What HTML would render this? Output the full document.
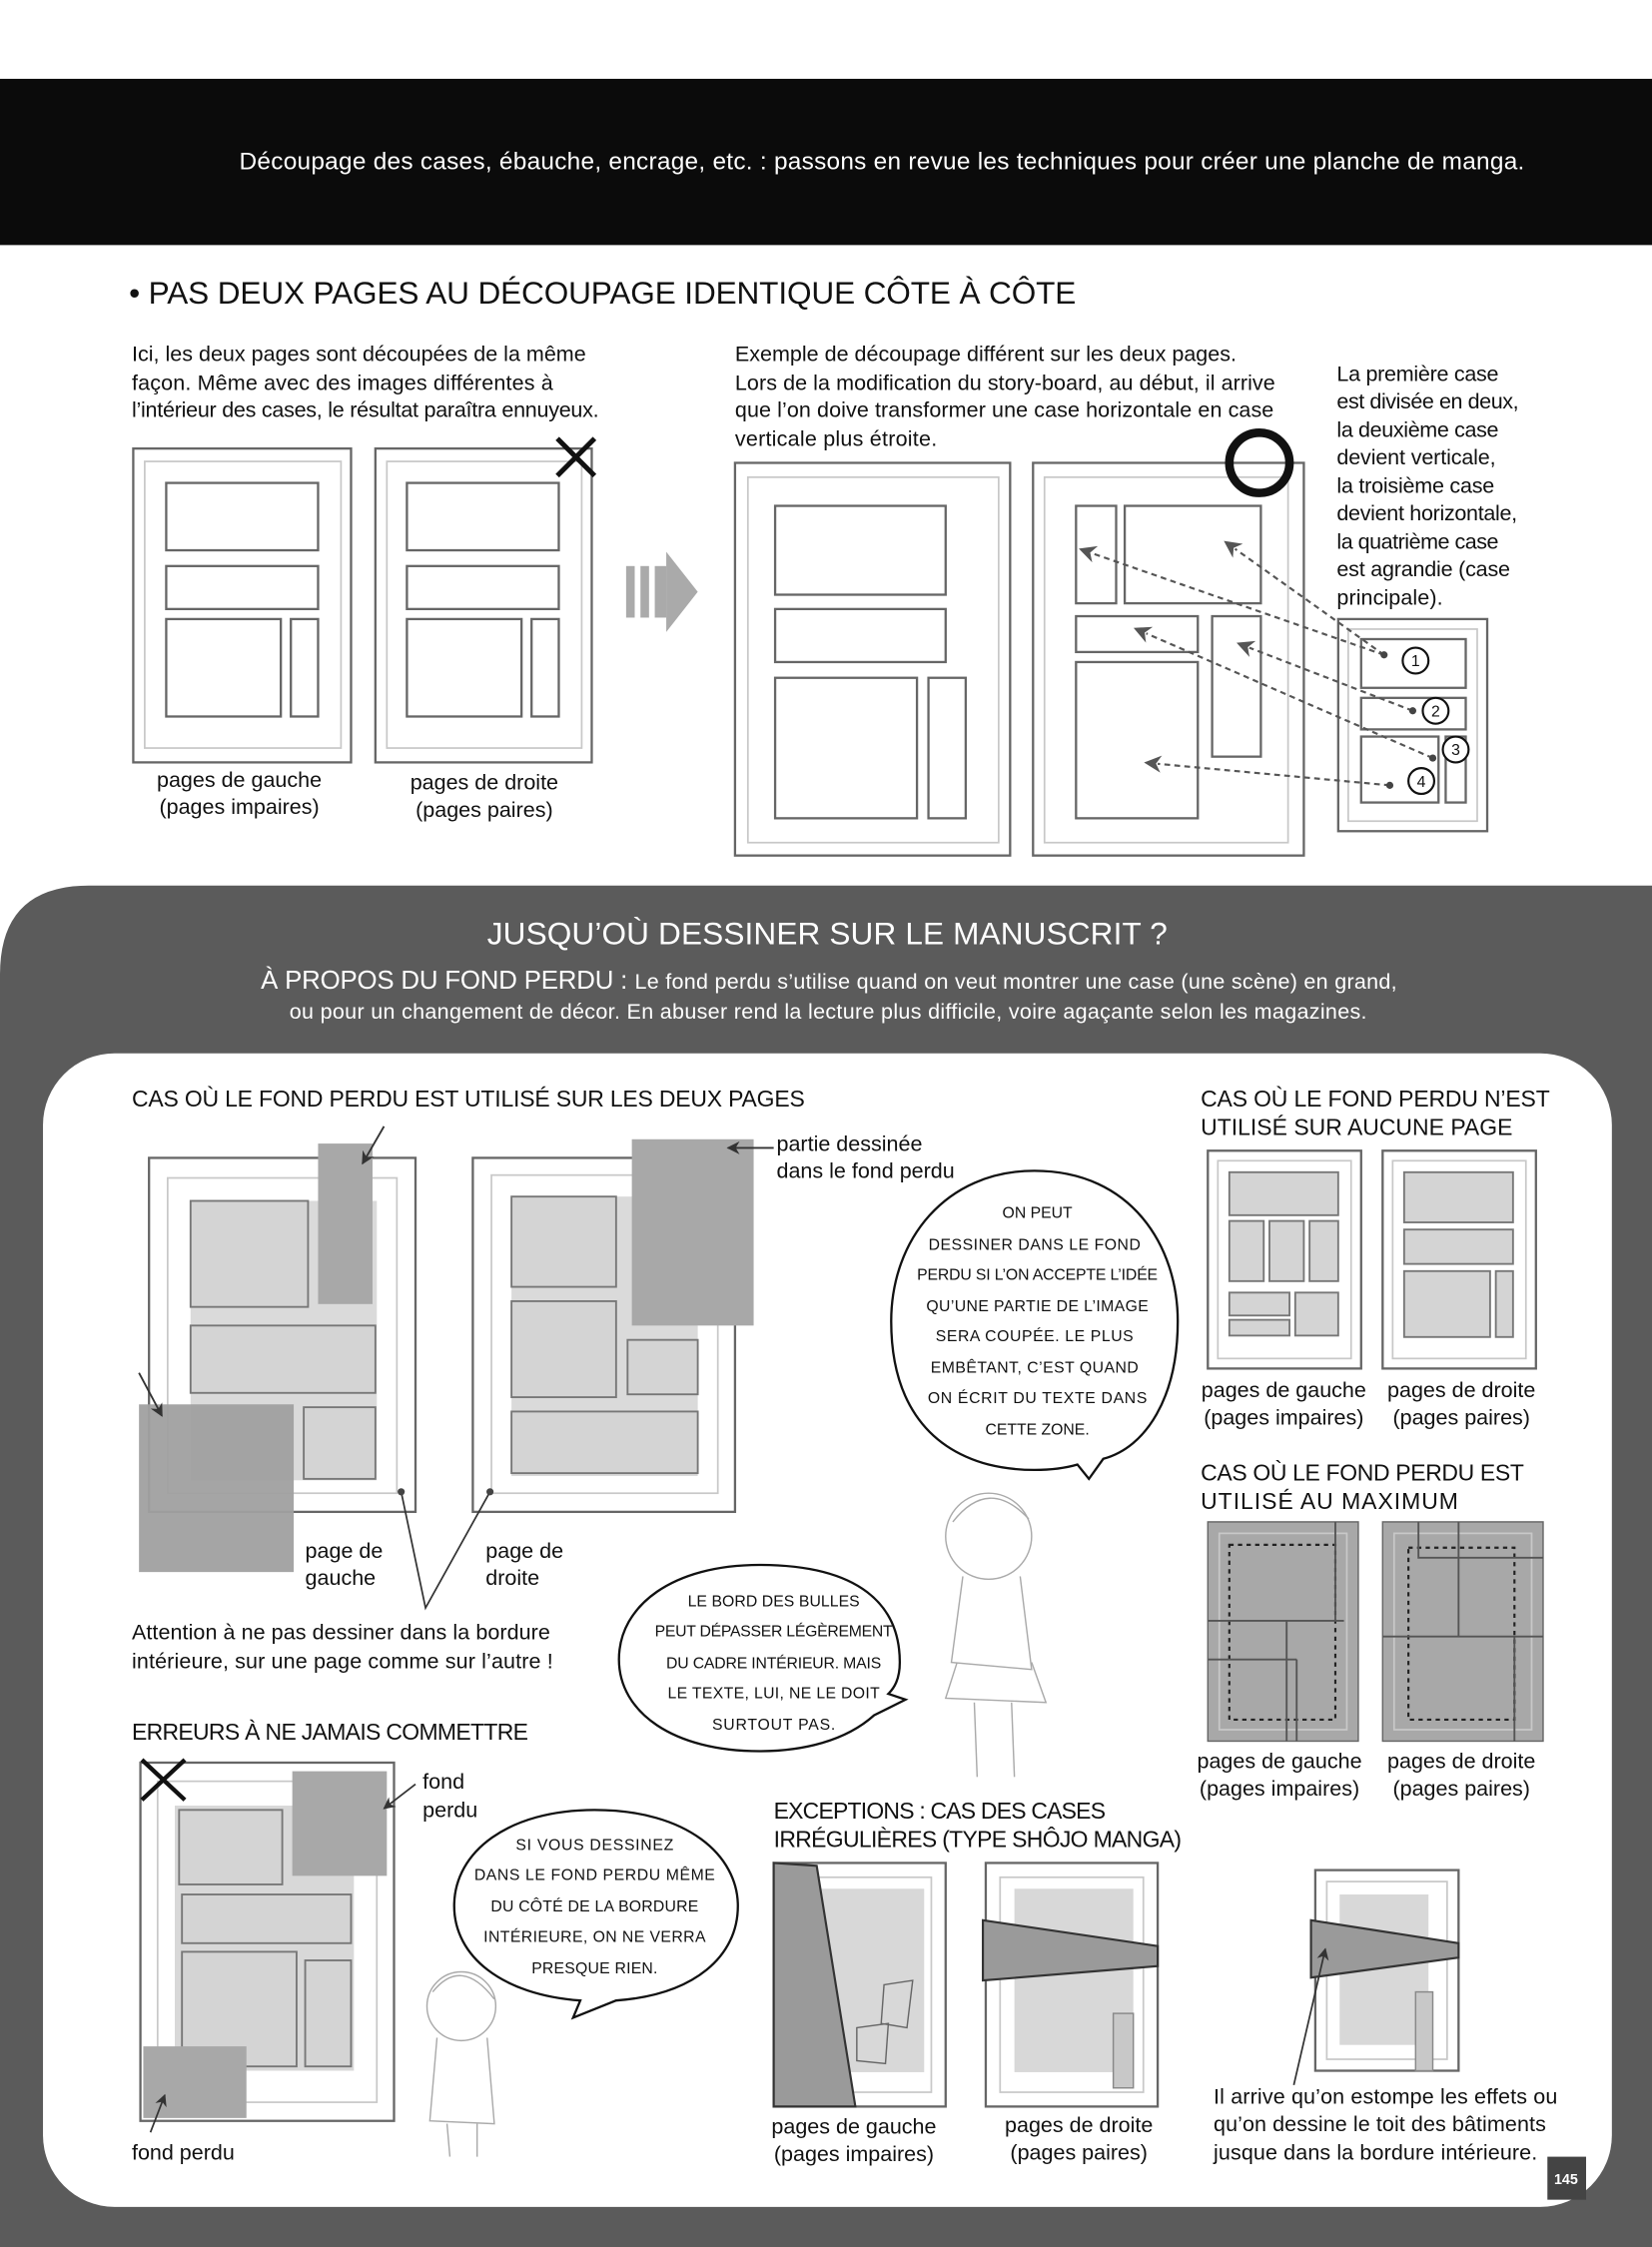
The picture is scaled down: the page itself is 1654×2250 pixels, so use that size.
<!DOCTYPE html>
<html><head><meta charset="utf-8"><style>
html,body{margin:0;padding:0;background:#fff}
svg{display:block}
text{font-family:"Liberation Sans Narrow","Liberation Sans",sans-serif;fill:#111}
.h{font-size:16px;letter-spacing:0.3px}
.b{font-size:15px}
.w{fill:#fff}
.c{font-family:"DejaVu Sans Condensed","Liberation Sans Narrow",sans-serif;font-size:11px;text-anchor:middle}
.pg{fill:none;stroke:#666;stroke-width:1.6}
.in{fill:none;stroke:#c8c8c8;stroke-width:1.2}
.pn{fill:none;stroke:#666;stroke-width:1.6}
.gp{fill:#d4d4d4;stroke:#777;stroke-width:1.3}
.dk{fill:#a8a8a8}
.da{stroke:#555;stroke-width:1.5;stroke-dasharray:4 3;fill:none}
</style></head><body>
<svg width="1654" height="2250" viewBox="0 0 1153 1568" preserveAspectRatio="none" xmlns="http://www.w3.org/2000/svg">
<defs><marker id="ah" viewBox="0 0 10 10" refX="2" refY="5" markerWidth="8" markerHeight="8" orient="auto-start-reverse"><path d="M0,0 L10,5 L0,10 L3,5 z" fill="#555"/></marker>
<marker id="ak" viewBox="0 0 10 10" refX="9" refY="5" markerWidth="7" markerHeight="7" orient="auto"><path d="M0,0 L10,5 L0,10 L3,5 z" fill="#333"/></marker></defs>
<rect width="1153" height="1568" fill="#fff"/>
<rect x="0" y="55" width="1153" height="116" fill="#0b0b0b"/>
<text x="167" y="118" class="w" style="font-size:17px" textLength="897">Découpage des cases, ébauche, encrage, etc. : passons en revue les techniques pour créer une planche de manga.</text>
<text x="90" y="212" style="font-size:22px;letter-spacing:1px" textLength="662">• PAS DEUX PAGES AU DÉCOUPAGE IDENTIQUE CÔTE À CÔTE</text>
<g class="b"><text x="92" y="252" textLength="317">Ici, les deux pages sont découpées de la même</text><text x="92" y="272" textLength="294">façon. Même avec des images différentes à</text><text x="92" y="291" textLength="326">l’intérieur des cases, le résultat paraîtra ennuyeux.</text>
<text x="513" y="252" textLength="350">Exemple de découpage différent sur les deux pages.</text><text x="513" y="272" textLength="377">Lors de la modification du story-board, au début, il arrive</text><text x="513" y="291" textLength="376">que l’on doive transformer une case horizontale en case</text><text x="513" y="311" textLength="141">verticale plus étroite.</text>
<text x="933" y="266" textLength="113">La première case</text><text x="933" y="285" textLength="127">est divisée en deux,</text><text x="933" y="305" textLength="113">la deuxième case</text><text x="933" y="324" textLength="111">devient verticale,</text><text x="933" y="344" textLength="110">la troisième case</text><text x="933" y="363" textLength="126">devient horizontale,</text><text x="933" y="383" textLength="113">la quatrième case</text><text x="933" y="402" textLength="121">est agrandie (case</text><text x="933" y="422" textLength="74">principale).</text>
<g text-anchor="middle"><text x="167" y="549">pages de gauche</text><text x="167" y="568">(pages impaires)</text><text x="338" y="551">pages de droite</text><text x="338" y="570">(pages paires)</text></g></g>
<rect class="pg" x="93" y="313" width="152" height="219"/><rect class="in" x="101" y="322" width="137" height="200"/>
<rect class="pn" x="116" y="337" width="106" height="47"/><rect class="pn" x="116" y="395" width="106" height="30"/><rect class="pn" x="116" y="432" width="80" height="68"/><rect class="pn" x="203" y="432" width="19" height="68"/>
<rect class="pg" x="262" y="313" width="151" height="219"/><rect class="in" x="270" y="322" width="136" height="200"/>
<rect class="pn" x="284" y="337" width="106" height="47"/><rect class="pn" x="284" y="395" width="106" height="30"/><rect class="pn" x="284" y="432" width="80" height="68"/><rect class="pn" x="371" y="432" width="19" height="68"/>
<path d="M389,306 L415,332 M415,306 L389,332" stroke="#111" stroke-width="3.5"/>
<g fill="#aaa"><rect x="437" y="395" width="6" height="36"/><rect x="447" y="395" width="6" height="36"/><rect x="457" y="395" width="8" height="36"/><path d="M465,385 L487,413 L465,441z"/></g>
<rect class="pg" x="513" y="323" width="192" height="274"/><rect class="in" x="522" y="333" width="175" height="255"/>
<rect class="pn" x="541" y="353" width="119" height="62"/><rect class="pn" x="541" y="425" width="119" height="37"/><rect class="pn" x="541" y="473" width="99" height="98"/><rect class="pn" x="648" y="473" width="26" height="98"/>
<rect class="pg" x="721" y="323" width="189" height="274"/><rect class="in" x="729" y="333" width="170" height="255"/>
<rect class="pn" x="751" y="353" width="28" height="68"/><rect class="pn" x="785" y="353" width="95" height="68"/><rect class="pn" x="751" y="430" width="85" height="25"/><rect class="pn" x="846" y="430" width="34" height="98"/><rect class="pn" x="751" y="462" width="85" height="109"/>
<circle cx="879" cy="323" r="21" fill="none" stroke="#111" stroke-width="6"/>
<rect class="pg" x="934" y="432" width="104" height="148"/><rect class="in" x="941" y="439" width="90" height="134"/>
<rect class="pn" x="950" y="446" width="73" height="34"/><rect class="pn" x="950" y="487" width="73" height="22"/><rect class="pn" x="950" y="514" width="54" height="46"/><rect class="pn" x="1009" y="514" width="14" height="46"/>
<g class="da"><path d="M966,457 L862,383" marker-end="url(#ah)"/><path d="M966,457 L762,386" marker-end="url(#ah)"/><path d="M986,496 L872,452" marker-end="url(#ah)"/><path d="M1000,529 L800,442" marker-end="url(#ah)"/><path d="M970,548 L808,533" marker-end="url(#ah)"/></g>
<g fill="#444"><circle cx="966" cy="457" r="2.5"/><circle cx="986" cy="496" r="2.5"/><circle cx="1000" cy="529" r="2.5"/><circle cx="970" cy="548" r="2.5"/></g>
<g fill="#fff" stroke="#111" stroke-width="1.5"><circle cx="988" cy="461" r="9"/><circle cx="1002" cy="496" r="9"/><circle cx="1016" cy="523" r="9"/><circle cx="992" cy="545" r="9"/></g>
<g style="font-size:11px" text-anchor="middle"><text x="988" y="465">1</text><text x="1002" y="500">2</text><text x="1016" y="527">3</text><text x="992" y="549">4</text></g>
<path d="M0,680 Q0,618 62,618 L1153,618 L1153,1568 L0,1568 Z" fill="#5b5b5b"/>
<text x="578" y="659" class="w" text-anchor="middle" style="font-size:22px;letter-spacing:1.2px" textLength="476">JUSQU’OÙ DESSINER SUR LE MANUSCRIT ?</text>
<text x="182" y="690" class="w" style="font-size:18px" textLength="256">À PROPOS DU FOND PERDU :</text>
<text x="443" y="690" class="w" style="font-size:15px" textLength="532">Le fond perdu s’utilise quand on veut montrer une case (une scène) en grand,</text>
<text x="578" y="711" class="w" text-anchor="middle" style="font-size:15px" textLength="752">ou pour un changement de décor. En abuser rend la lecture plus difficile, voire agaçante selon les magazines.</text>
<rect x="30" y="735" width="1095" height="805" rx="50" fill="#fff"/>
<rect x="1080" y="1505" width="27" height="30" fill="#444"/><text x="1093" y="1524" class="w" text-anchor="middle" style="font-size:10px;font-weight:bold">145</text>
<text x="92" y="772" class="h" textLength="470">CAS OÙ LE FOND PERDU EST UTILISÉ SUR LES DEUX PAGES</text>
<rect class="pg" x="104" y="808" width="186" height="247"/><rect class="in" x="117" y="822" width="160" height="220"/>
<rect x="133" y="838" width="130" height="195" fill="#dadada"/>
<rect class="gp" x="133" y="838" width="82" height="74"/><rect class="gp" x="133" y="925" width="129" height="47"/><rect class="gp" x="212" y="982" width="50" height="50"/>
<rect class="dk" x="222" y="798" width="38" height="112"/><rect x="97" y="980" width="108" height="117" fill="#a0a0a0" opacity="0.95"/>
<path d="M268,786 L253,812" stroke="#333" stroke-width="1.3" marker-end="url(#ak)"/><path d="M97,958 L113,988" stroke="#333" stroke-width="1.3" marker-end="url(#ak)"/>
<rect class="pg" x="330" y="808" width="183" height="247"/><rect class="in" x="343" y="820" width="158" height="222"/>
<rect x="357" y="835" width="130" height="195" fill="#dadada"/>
<rect class="gp" x="357" y="835" width="73" height="63"/><rect class="gp" x="357" y="908" width="73" height="67"/><rect class="gp" x="438" y="935" width="49" height="38"/><rect class="gp" x="357" y="985" width="130" height="43"/>
<rect class="dk" x="441" y="795" width="85" height="130"/>
<path d="M540,801 L508,801" stroke="#333" stroke-width="1.3" marker-end="url(#ak)"/>
<g class="b"><text x="542" y="803">partie dessinée</text><text x="542" y="822">dans le fond perdu</text>
<text x="213" y="1087">page de</text><text x="213" y="1106">gauche</text><text x="339" y="1087">page de</text><text x="339" y="1106">droite</text>
<text x="92" y="1144" textLength="292">Attention à ne pas dessiner dans la bordure</text><text x="92" y="1164" textLength="294">intérieure, sur une page comme sur l’autre !</text></g>
<path d="M280,1041 L297,1122 L342,1041" stroke="#333" stroke-width="1.2" fill="none"/><circle cx="280" cy="1041" r="2.5" fill="#444"/><circle cx="342" cy="1041" r="2.5" fill="#444"/>
<path d="M722,817 C790,817 822,870 822,922 C822,975 800,1010 770,1018 L760,1032 L752,1022 C735,1027 710,1027 690,1022 C645,1010 622,975 622,922 C622,865 660,817 722,817 Z" fill="#fff" stroke="#111" stroke-width="1.6"/>
<g class="c"><text x="724" y="850">ON PEUT</text><text x="722" y="872" textLength="148">DESSINER DANS LE FOND</text><text x="724" y="893" textLength="168">PERDU SI L’ON ACCEPTE L’IDÉE</text><text x="724" y="915" textLength="155">QU’UNE PARTIE DE L’IMAGE</text><text x="722" y="936" textLength="138">SERA COUPÉE. LE PLUS</text><text x="722" y="958" textLength="145">EMBÊTANT, C’EST QUAND</text><text x="724" y="979" textLength="153">ON ÉCRIT DU TEXTE DANS</text><text x="724" y="1001">CETTE ZONE.</text></g>
<path d="M530,1092 C600,1092 628,1120 628,1160 C628,1172 624,1178 620,1182 L632,1186 L610,1197 C590,1215 560,1222 530,1222 C470,1222 432,1195 432,1158 C432,1120 470,1092 530,1092 Z" fill="#fff" stroke="#111" stroke-width="1.6"/>
<g class="c"><text x="540" y="1121" textLength="120">LE BORD DES BULLES</text><text x="540" y="1142" textLength="166">PEUT DÉPASSER LÉGÈREMENT</text><text x="540" y="1164" textLength="150">DU CADRE INTÉRIEUR. MAIS</text><text x="540" y="1185" textLength="148">LE TEXTE, LUI, NE LE DOIT</text><text x="540" y="1207" textLength="86">SURTOUT PAS.</text></g>
<path d="M415,1263 C480,1263 515,1295 515,1330 C515,1365 485,1392 430,1396 L400,1408 L405,1396 C350,1392 317,1365 317,1330 C317,1292 355,1263 415,1263 Z" fill="#fff" stroke="#111" stroke-width="1.6"/>
<g class="c"><text x="415" y="1291" textLength="110">SI VOUS DESSINEZ</text><text x="415" y="1312" textLength="168">DANS LE FOND PERDU MÊME</text><text x="415" y="1334" textLength="145">DU CÔTÉ DE LA BORDURE</text><text x="415" y="1355" textLength="155">INTÉRIEURE, ON NE VERRA</text><text x="415" y="1377" textLength="88">PRESQUE RIEN.</text></g>
<g fill="none" stroke="#aaa" stroke-width="1"><circle cx="690" cy="1072" r="30"/><path d="M665,1062 Q690,1030 718,1060 M672,1100 L664,1160 L720,1165 L712,1100 M668,1160 L660,1185 L730,1188 L720,1160 M680,1188 L682,1240 M706,1188 L708,1240"/>
<circle cx="322" cy="1400" r="24"/><path d="M302,1390 Q322,1365 345,1395 M305,1422 L300,1480 L345,1482 L340,1422 M312,1482 L314,1505 M333,1482 L333,1505"/></g>
<text x="838" y="772" class="h" textLength="244">CAS OÙ LE FOND PERDU N’EST</text><text x="838" y="792" class="h" textLength="218">UTILISÉ SUR AUCUNE PAGE</text>
<rect class="pg" x="843" y="803" width="107" height="152"/><rect class="in" x="850" y="810" width="93" height="138"/>
<rect class="gp" x="858" y="818" width="76" height="30"/><rect class="gp" x="858" y="852" width="24" height="42"/><rect class="gp" x="886" y="852" width="24" height="42"/><rect class="gp" x="914" y="852" width="20" height="42"/><rect class="gp" x="858" y="902" width="42" height="16"/><rect class="gp" x="904" y="902" width="30" height="30"/><rect class="gp" x="858" y="921" width="42" height="11"/>
<rect class="pg" x="965" y="803" width="107" height="152"/><rect class="in" x="972" y="810" width="93" height="138"/>
<rect class="gp" x="980" y="818" width="76" height="35"/><rect class="gp" x="980" y="858" width="76" height="24"/><rect class="gp" x="980" y="887" width="60" height="46"/><rect class="gp" x="1044" y="887" width="12" height="46"/>
<g class="b" text-anchor="middle"><text x="896" y="975">pages de gauche</text><text x="896" y="994">(pages impaires)</text><text x="1020" y="975">pages de droite</text><text x="1020" y="994">(pages paires)</text></g>
<text x="838" y="1033" class="h" textLength="226">CAS OÙ LE FOND PERDU EST</text><text x="838" y="1053" class="h" textLength="180">UTILISÉ AU MAXIMUM</text>
<rect x="843" y="1062" width="105" height="153" fill="#a8a8a8" stroke="#666"/><rect class="in" x="851" y="1070" width="89" height="137"/>
<path d="M858,1078 H932 V1200 H858 Z" fill="none" stroke="#222" stroke-width="1.5" stroke-dasharray="3 3"/>
<g fill="none" stroke="#555" stroke-width="1.3"><path d="M843,1131 H938 M843,1158 H905 M898,1131 V1215 M905,1158 V1215 M932,1062 V1131"/></g>
<rect x="965" y="1062" width="112" height="153" fill="#a8a8a8" stroke="#666"/><rect class="in" x="973" y="1070" width="96" height="137"/>
<path d="M983,1080 H1057 V1200 H983 Z" fill="none" stroke="#222" stroke-width="1.5" stroke-dasharray="3 3"/>
<g fill="none" stroke="#555" stroke-width="1.3"><path d="M965,1142 H1077 M1018,1062 V1142 M1018,1087 H1077 M1057,1142 V1215 M990,1062 V1087 H1018"/></g>
<g class="b" text-anchor="middle"><text x="893" y="1234">pages de gauche</text><text x="893" y="1253">(pages impaires)</text><text x="1020" y="1234">pages de droite</text><text x="1020" y="1253">(pages paires)</text></g>
<text x="92" y="1214" class="h" textLength="277">ERREURS À NE JAMAIS COMMETTRE</text>
<rect class="pg" x="98" y="1230" width="177" height="250"/><rect class="in" x="110" y="1243" width="153" height="224"/>
<rect x="122" y="1260" width="125" height="185" fill="#d8d8d8"/>
<rect class="gp" x="125" y="1263" width="72" height="52"/><rect class="gp" x="127" y="1322" width="118" height="34"/><rect class="gp" x="127" y="1362" width="80" height="80"/><rect class="gp" x="213" y="1368" width="32" height="74"/>
<rect class="dk" x="204" y="1236" width="66" height="73"/><rect class="dk" x="100" y="1428" width="72" height="50"/>
<path d="M99,1228 L129,1256 M129,1228 L99,1256" stroke="#111" stroke-width="3"/>
<path d="M290,1245 L268,1262" stroke="#333" stroke-width="1.2" marker-end="url(#ak)"/><path d="M105,1488 L115,1462" stroke="#333" stroke-width="1.2" marker-end="url(#ak)"/>
<g class="b"><text x="295" y="1248">fond</text><text x="295" y="1268">perdu</text><text x="92" y="1507">fond perdu</text></g>
<text x="540" y="1269" class="h" textLength="232">EXCEPTIONS : CAS DES CASES</text><text x="540" y="1289" class="h" textLength="285">IRRÉGULIÈRES (TYPE SHÔJO MANGA)</text>
<rect class="pg" x="540" y="1300" width="120" height="170"/><rect class="in" x="550" y="1310" width="100" height="150"/>
<rect x="572" y="1318" width="73" height="128" fill="#d8d8d8"/>
<path d="M540,1300 L570,1302 L597,1470 L540,1470 Z" fill="#9a9a9a" stroke="#333" stroke-width="1.5"/>
<path d="M617,1385 L637,1382 L633,1415 L615,1412 Z M598,1415 L620,1412 L618,1440 L598,1438 Z" fill="none" stroke="#666"/>
<rect class="pg" x="688" y="1300" width="120" height="170"/><rect class="in" x="698" y="1310" width="100" height="150"/>
<rect x="708" y="1318" width="83" height="128" fill="#d8d8d8"/><rect x="777" y="1405" width="14" height="52" fill="#c8c8c8" stroke="#888"/>
<path d="M686,1340 L808,1358 L808,1372 L686,1382 Z" fill="#9a9a9a" stroke="#333" stroke-width="1.5"/>
<rect class="pg" x="918" y="1305" width="100" height="140"/><rect class="in" x="926" y="1313" width="84" height="124"/>
<rect x="935" y="1322" width="62" height="105" fill="#d8d8d8"/><rect x="988" y="1390" width="12" height="55" fill="#c8c8c8" stroke="#888"/>
<path d="M915,1340 L1018,1356 L1018,1366 L915,1380 Z" fill="#9a9a9a" stroke="#333" stroke-width="1.5"/>
<path d="M903,1455 L925,1360" stroke="#333" stroke-width="1.2" marker-end="url(#ak)"/>
<g class="b"><g text-anchor="middle"><text x="596" y="1489">pages de gauche</text><text x="596" y="1508">(pages impaires)</text><text x="753" y="1488">pages de droite</text><text x="753" y="1507">(pages paires)</text></g>
<text x="847" y="1468" textLength="240">Il arrive qu’on estompe les effets ou</text><text x="847" y="1487" textLength="232">qu’on dessine le toit des bâtiments</text><text x="847" y="1507" textLength="226">jusque dans la bordure intérieure.</text></g>
</svg>
</body></html>
